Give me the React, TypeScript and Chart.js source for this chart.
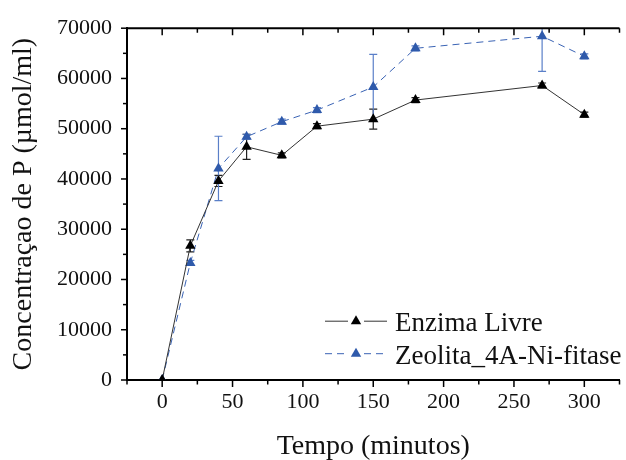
import React, { useEffect, useRef } from 'react';
import { Chart, registerables } from 'chart.js';

Chart.register(...registerables);

// ---- data ----
const tempo = [0, 20, 40, 60, 85, 110, 150, 180, 270, 300];
const enzimaLivre = [0, 26700, 39600, 46400, 44700, 50500, 51900, 55700, 58600, 52800];
const enzimaLivreErr = [0, 1200, 1100, 2500, 500, 500, 2000, 500, 500, 500];
const zeolita = [0, 23300, 42100, 48400, 51400, 53700, 58300, 66000, 68400, 64400];
const zeolitaErr = [0, 500, 6400, 500, 500, 500, 6500, 500, 7000, 500];
const seriesLabels = ['Enzima Livre', 'Zeolita_4A-Ni-fitase'];
const xTitle = 'Tempo (minutos)';
const yTitle = 'Concentraçao de P (µmol/ml)';

const FONT = "'Liberation Serif', 'Times New Roman', serif";

const errorBarPlugin = {
  id: 'errorBars',
  beforeDatasetsDraw(chart: any) {
    const { ctx, chartArea, scales } = chart;
    const x = scales.x, y = scales.y;
    ctx.save();
    ctx.beginPath();
    ctx.rect(chartArea.left, chartArea.top, chartArea.right - chartArea.left, chartArea.bottom - chartArea.top);
    ctx.clip();
    chart.data.datasets.forEach((ds: any) => {
      const errs = ds.errors;
      if (!errs) return;
      ctx.strokeStyle = ds.errorColor;
      ctx.lineWidth = 1.2;
      ds.data.forEach((pt: any, i: number) => {
        const e = errs[i];
        if (!e) return;
        const px = x.getPixelForValue(pt.x);
        const top = y.getPixelForValue(pt.y + e);
        const bot = y.getPixelForValue(pt.y - e);
        ctx.beginPath();
        ctx.moveTo(px, top); ctx.lineTo(px, bot);
        ctx.moveTo(px - 4, top); ctx.lineTo(px + 4, top);
        ctx.moveTo(px - 4, bot); ctx.lineTo(px + 4, bot);
        ctx.stroke();
      });
    });
    ctx.restore();
  },
};

const axisPlugin = {
  id: 'axisFrame',
  afterDraw(chart: any) {
    const { ctx, chartArea, scales } = chart;
    const { left, right, top, bottom } = chartArea;
    const x = scales.x, y = scales.y;
    ctx.save();
    ctx.strokeStyle = '#000';
    ctx.lineWidth = 2;
    ctx.beginPath();
    ctx.moveTo(left - 1, top);
    ctx.lineTo(right, top);
    ctx.stroke();
    ctx.lineWidth = 1.5;
    x.ticks.forEach((t: any) => {
      const px = x.getPixelForValue(t.value);
      const len = t.value % 50 === 0 ? 7 : 4.5;
      ctx.beginPath();
      ctx.moveTo(px, bottom); ctx.lineTo(px, bottom + len);
      ctx.moveTo(px, top); ctx.lineTo(px, top + len);
      ctx.stroke();
    });
    y.ticks.forEach((t: any) => {
      const py = y.getPixelForValue(t.value);
      const len = t.value % 10000 === 0 ? 6 : 4;
      ctx.beginPath();
      ctx.moveTo(left, py); ctx.lineTo(left - len, py);
      ctx.stroke();
    });
    ctx.restore();
  },
};

const legendPlugin = {
  id: 'customLegend',
  afterDraw(chart: any) {
    const { ctx, chartArea } = chart;
    const x0 = chartArea.left + 198;
    const x1 = x0 + 62;
    const xm = (x0 + x1) / 2;
    const xt = x1 + 8;
    const baselines = [chartArea.top + 303, chartArea.top + 335.5];
    ctx.save();
    chart.data.datasets.forEach((ds: any, i: number) => {
      const by = baselines[i];
      const ly = by - 10;
      ctx.strokeStyle = ds.borderColor;
      ctx.lineWidth = 1;
      ctx.setLineDash(ds.borderDash || []);
      ctx.beginPath();
      ctx.moveTo(x0, ly); ctx.lineTo(xm - 8, ly);
      ctx.moveTo(xm + 8, ly); ctx.lineTo(x1, ly);
      ctx.stroke();
      ctx.setLineDash([]);
      const r = 6;
      ctx.fillStyle = ds.pointBackgroundColor;
      ctx.beginPath();
      ctx.moveTo(xm, ly - r);
      ctx.lineTo(xm + r * Math.sin((2 * Math.PI) / 3), ly - r * Math.cos((2 * Math.PI) / 3));
      ctx.lineTo(xm - r * Math.sin((2 * Math.PI) / 3), ly - r * Math.cos((2 * Math.PI) / 3));
      ctx.closePath();
      ctx.fill();
      ctx.fillStyle = '#111';
      ctx.font = `27px ${FONT}`;
      ctx.textAlign = 'left';
      ctx.textBaseline = 'alphabetic';
      ctx.fillText(ds.label, xt, by);
    });
    ctx.restore();
  },
};

export default function App() {
  const ref = useRef<HTMLCanvasElement | null>(null);
  useEffect(() => {
    if (!ref.current) return;
    const chart = new Chart(ref.current, {
      type: 'line',
      data: {
        datasets: [
          {
            label: seriesLabels[0],
            data: tempo.map((t, i) => ({ x: t, y: enzimaLivre[i] })),
            borderColor: '#333333',
            borderWidth: 1,
            pointStyle: 'triangle',
            pointRadius: 6,
            pointBackgroundColor: '#000000',
            pointBorderColor: '#000000',
            pointBorderWidth: 0,
            tension: 0,
            errors: enzimaLivreErr,
            errorColor: '#222222',
          } as any,
          {
            label: seriesLabels[1],
            data: tempo.map((t, i) => ({ x: t, y: zeolita[i] })),
            borderColor: '#3a63b4',
            borderWidth: 1,
            borderDash: [7, 5],
            pointStyle: 'triangle',
            pointRadius: 6,
            pointBackgroundColor: '#2f5aab',
            pointBorderColor: '#2f5aab',
            pointBorderWidth: 0,
            tension: 0,
            errors: zeolitaErr,
            errorColor: '#5a7fc8',
          } as any,
        ],
      },
      options: {
        animation: false,
        responsive: false,
        maintainAspectRatio: false,
        layout: { padding: { top: 27, right: 6.5, left: 0, bottom: 0 } },
        plugins: { legend: { display: false }, tooltip: { enabled: false } },
        scales: {
          x: {
            type: 'linear',
            position: 'bottom',
            min: -25,
            max: 325,
            ticks: {
              stepSize: 25,
              autoSkip: false,
              maxRotation: 0,
              minRotation: 0,
              padding: 9,
              color: '#111',
              font: { family: FONT, size: 22 },
              callback: (v: any) => (Number(v) % 50 === 0 ? String(v) : ''),
            },
            grid: { display: true, drawOnChartArea: false, drawTicks: false },
            border: { display: true, color: '#000', width: 2 },
            title: {
              display: true,
              text: xTitle,
              color: '#111',
              font: { family: FONT, size: 28 },
              padding: { top: 0, bottom: -3 },
            },
            afterFit: (s: any) => { s.height = 80; s.paddingLeft = 0; s.paddingRight = 0; },
          },
          y: {
            type: 'linear',
            min: 0,
            max: 70000,
            ticks: {
              stepSize: 5000,
              autoSkip: false,
              padding: 15,
              color: '#111',
              font: { family: FONT, size: 22 },
              callback: (v: any) => (Number(v) % 10000 === 0 ? String(v) : ''),
            },
            grid: { display: true, drawOnChartArea: false, drawTicks: false },
            border: { display: true, color: '#000', width: 2 },
            title: {
              display: true,
              text: yTitle,
              color: '#111',
              font: { family: FONT, size: 28 },
              padding: { top: 7, bottom: 0 },
            },
            afterFit: (s: any) => { s.width = 127; },
          },
        },
      } as any,
      plugins: [errorBarPlugin, axisPlugin, legendPlugin],
    });
    return () => chart.destroy();
  }, []);
  return (
    <div style={{ position: 'absolute', left: 0, top: 0, width: 626, height: 460, background: '#fff' }}>
      <canvas ref={ref} width={626} height={460} style={{ display: 'block', width: 626, height: 460 }} />
    </div>
  );
}
